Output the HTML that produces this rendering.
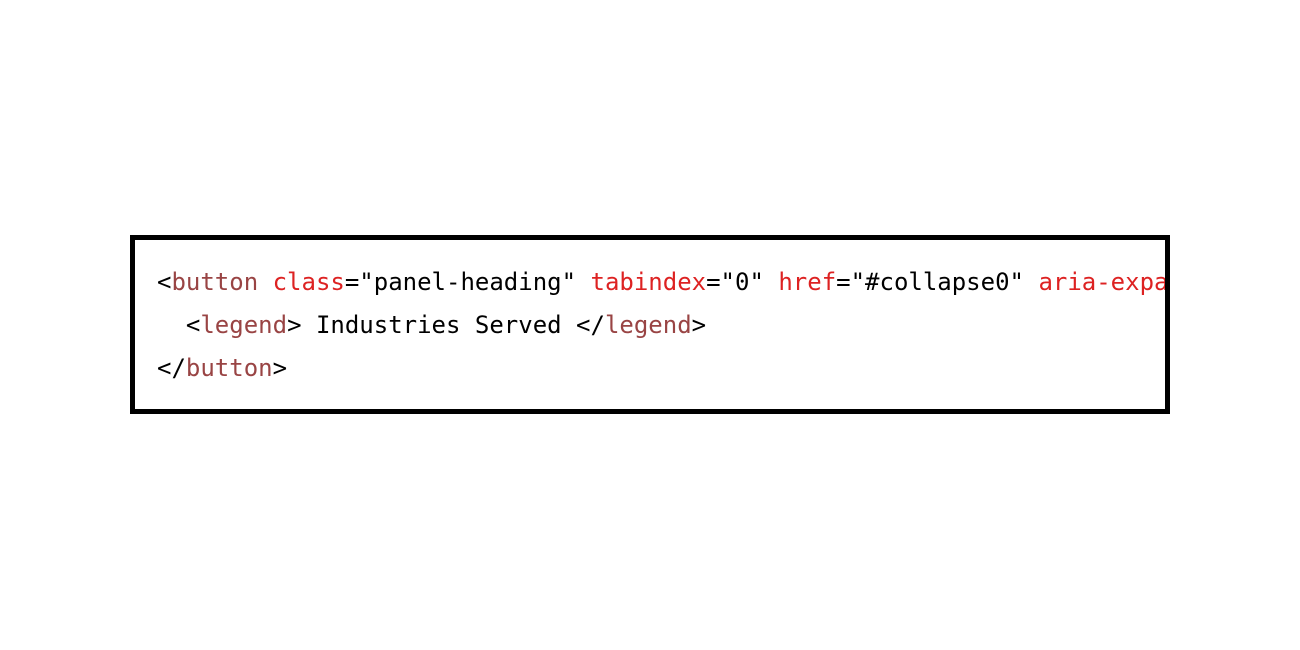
<!DOCTYPE html>
<html><head><style>
html,body{margin:0;padding:0;background:#fff;width:1300px;height:650px;overflow:hidden}
.box{position:absolute;left:130px;top:235px;width:1030px;height:169px;border:5px solid #000;overflow:hidden;background:#fff}
pre{margin:0;position:absolute;left:22px;top:21px;font-family:"DejaVu Sans Mono","Liberation Mono",monospace;font-size:24px;line-height:43px;color:#000;white-space:pre}
.t{color:#994444}.a{color:#dd2222}
</style></head><body>
<div class="box"><pre>&lt;<span class="t">button</span> <span class="a">class</span>="panel-heading" <span class="a">tabindex</span>="0" <span class="a">href</span>="#collapse0" <span class="a">aria-expanded</span>="false"&gt;
  &lt;<span class="t">legend</span>&gt; Industries Served &lt;/<span class="t">legend</span>&gt;
&lt;/<span class="t">button</span>&gt;</pre></div>
</body></html>
